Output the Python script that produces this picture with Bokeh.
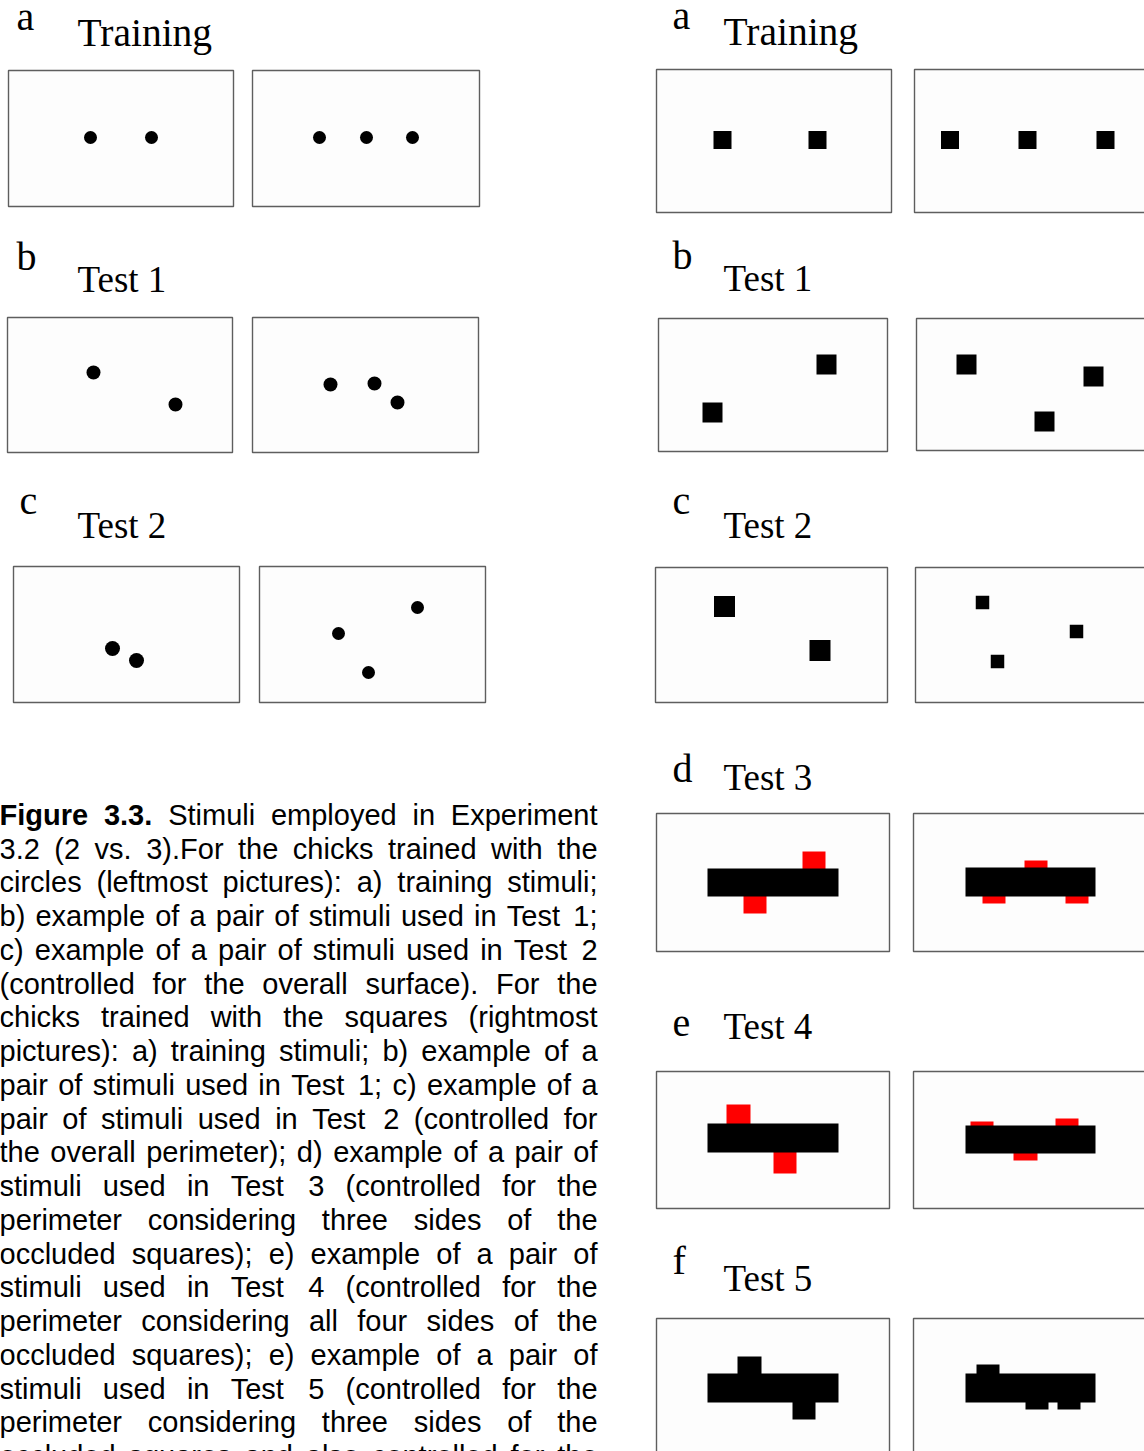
from bokeh.plotting import figure
from bokeh.models import Range1d, ColumnDataSource
from bokeh.core.properties import value
from bokeh.embed import file_html
from bokeh.resources import INLINE

W, H = 1144, 1451

# ---------------- frames (left, right, top, bottom) ----------------
frame_left = [8, 252, 7, 252, 13, 259,
              656, 914, 658, 916, 655, 915,
              656, 913, 656, 913, 656, 913]
frame_right = [233, 479, 232, 478, 239, 485,
               891, 1150, 887, 1150, 887, 1150,
               889, 1150, 889, 1150, 889, 1150]
frame_top = [70, 70, 317, 317, 566, 566,
             69, 69, 318, 318, 567, 567,
             813, 813, 1071, 1071, 1318, 1318]
frame_bottom = [206, 206, 452, 452, 702, 702,
                212, 212, 451, 450, 702, 702,
                951, 951, 1208, 1208, 1470, 1470]

# ---------------- circle stimuli (centre x, centre y, diameter) ----------------
circle_x = [90, 151, 319, 366, 412, 93, 175, 330, 374, 397, 112, 136, 417, 338, 368]
circle_y = [137, 137, 137, 137, 137, 372, 404, 384, 383, 402, 648, 660, 607, 633, 672]
circle_d = [13, 13, 13, 13, 13, 14, 14, 14, 14, 14, 15, 15, 13, 13, 13]

# ---------------- square stimuli (centre x, centre y, side) ----------------
square_x = [722, 817, 949.5, 1027, 1105, 826, 712, 966, 1093, 1044, 724, 819.5, 982, 1076, 997]
square_y = [139.5, 139.5, 139.5, 139.5, 139.5, 364, 412, 364, 376, 421, 606, 650, 602, 631, 661]
square_s = [18, 18, 18, 18, 18, 20, 20, 20, 20, 20, 21, 21, 13.5, 13.5, 13.5]

# ---------------- occluders (black bars) ----------------
bar_left = [707, 965, 707, 965, 707, 965]
bar_right = [838, 1095, 838, 1095, 838, 1095]
bar_top = [868, 867, 1123, 1125, 1373, 1373]
bar_bottom = [896, 896, 1152, 1153, 1402, 1402]

# occluded squares shown in red (Tests 3 and 4)
red_left = [802, 743, 1024, 982, 1065, 726, 773, 970, 1055, 1013]
red_top = [851, 890, 860, 880, 880, 1104, 1150, 1121, 1118, 1136]
red_side = [23, 23, 23, 23, 23, 24, 23, 23, 23, 24]

# occluded squares drawn in black (Test 5)
bump_left = [737, 792, 976, 1025, 1057]
bump_right = [761, 815, 999, 1048, 1080]
bump_top = [1356, 1380, 1364, 1380, 1380]
bump_bottom = [1380, 1419, 1380, 1409, 1409]

# ---------------- panel letters and titles ----------------
letter_text = ["a", "b", "c", "a", "b", "c", "d", "e", "f"]
letter_x = [16, 16, 19, 672, 672, 672, 672, 672, 672]
letter_y = [28, 268, 512, 27, 267, 512, 780, 1034, 1272]

title_text = ["Training", "Test 1", "Test 2",
              "Training", "Test 1", "Test 2", "Test 3", "Test 4", "Test 5"]
title_x = [77, 77, 77, 723, 723, 723, 723, 723, 723]
title_y = [48, 294, 540, 47, 293, 540, 792, 1041, 1293]
title_px = [39.5, 37, 37, 39.5, 37, 37, 37, 37, 37]

# ---------------- caption ----------------
caption_lines = [
    "Figure 3.3. Stimuli employed in Experiment",
    "3.2 (2 vs. 3).For the chicks trained with the",
    "circles (leftmost pictures): a) training stimuli;",
    "b) example of a pair of stimuli used in Test 1;",
    "c) example of a pair of stimuli used in Test 2",
    "(controlled for the overall surface). For the",
    "chicks trained with the squares (rightmost",
    "pictures): a) training stimuli; b) example of a",
    "pair of stimuli used in Test 1; c) example of a",
    "pair of stimuli used in Test 2 (controlled for",
    "the overall perimeter); d) example of a pair of",
    "stimuli used in Test 3 (controlled for the",
    "perimeter considering three sides of the",
    "occluded squares); e) example of a pair of",
    "stimuli used in Test 4 (controlled for the",
    "perimeter considering all four sides of the",
    "occluded squares); e) example of a pair of",
    "stimuli used in Test 5 (controlled for the",
    "perimeter considering three sides of the",
    "occluded squares and also controlled for the",
]
caption_bold_words = 2  # "Figure 3.3."

CAP_FONT = 29
CAP_LEFT, CAP_RIGHT = -1, 597
CAP_BASE, CAP_LEAD = 826, 33.75

# the renderer sets "alphabetic" text a little below the requested y;
# this fraction of the font size lifts it back onto the baseline
BASELINE_LIFT = 0.40
LETTER_LIFT = 0.30

# Arial / Liberation Sans advance widths (1/1000 em)
REG = dict(zip("abcdefghijklmnopqrstuvwxyz",
               [556, 556, 500, 556, 556, 278, 556, 556, 222, 222, 500, 222, 833,
                556, 556, 556, 556, 333, 500, 278, 556, 500, 722, 500, 500, 500]))
REG.update({c: 556 for c in "0123456789"})
REG.update({".": 278, ";": 278, ":": 278, ",": 278, "(": 333, ")": 333,
            "E": 667, "F": 611, "T": 611, "S": 667})
BOLD = {"F": 611, "i": 278, "g": 611, "u": 611, "r": 389, "e": 556, "3": 556, ".": 278}


def word_width(word, bold):
    table = BOLD if bold else REG
    return sum(table.get(ch, 600) for ch in word) * CAP_FONT / 1000.0


reg_words, reg_x, reg_y = [], [], []
bold_words, bold_x, bold_y = [], [], []
for i, line in enumerate(caption_lines):
    words = line.split()
    flags = [i == 0 and k < caption_bold_words for k in range(len(words))]
    widths = [word_width(w, b) for w, b in zip(words, flags)]
    gap = (CAP_RIGHT - CAP_LEFT - sum(widths)) / (len(words) - 1)
    x = CAP_LEFT
    y = CAP_BASE + i * CAP_LEAD - BASELINE_LIFT * CAP_FONT
    for w, b, wd in zip(words, flags, widths):
        if b:
            bold_words.append(w); bold_x.append(x); bold_y.append(y)
        else:
            reg_words.append(w); reg_x.append(x); reg_y.append(y)
        x += wd + gap

# ---------------- figure ----------------
p = figure(width=W, height=H, x_range=Range1d(0, W), y_range=Range1d(H, 0),
           output_backend="svg", toolbar_location=None, min_border=0,
           background_fill_color="white", border_fill_color="white")
p.axis.visible = False
p.grid.visible = False
p.outline_line_color = None

p.quad(left=frame_left, right=frame_right, top=frame_top, bottom=frame_bottom,
       fill_color="#fdfdfd", line_color="#5e5e5e", line_width=1.4)

p.scatter(x=circle_x, y=circle_y, size=circle_d, marker="circle",
          fill_color="black", line_color=None)

sq_src = ColumnDataSource(dict(
    l=[x - s / 2 for x, s in zip(square_x, square_s)],
    r=[x + s / 2 for x, s in zip(square_x, square_s)],
    t=[y - s / 2 for y, s in zip(square_y, square_s)],
    b=[y + s / 2 for y, s in zip(square_y, square_s)],
))
p.quad(left="l", right="r", top="t", bottom="b", source=sq_src,
       fill_color="black", line_color=None)

p.quad(left=red_left, right=[l + s for l, s in zip(red_left, red_side)],
       top=red_top, bottom=[t + s for t, s in zip(red_top, red_side)],
       fill_color="#ff0000", line_color=None)

p.quad(left=bump_left, right=bump_right, top=bump_top, bottom=bump_bottom,
       fill_color="black", line_color=None)

p.quad(left=bar_left, right=bar_right, top=bar_top, bottom=bar_bottom,
       fill_color="black", line_color=None)

LETTER_FONT = 40
p.text(x=letter_x, y=[v - LETTER_LIFT * LETTER_FONT for v in letter_y], text=letter_text,
       text_font=value("Liberation Serif"), text_font_size=f"{LETTER_FONT}px",
       text_color="black", text_baseline="alphabetic")

title_src = ColumnDataSource(dict(
    x=title_x,
    y=[v - BASELINE_LIFT * s for v, s in zip(title_y, title_px)],
    text=title_text,
    size=[f"{s}px" for s in title_px],
))
p.text(x="x", y="y", text="text", text_font_size="size", source=title_src,
       text_font=value("Liberation Serif"), text_color="black",
       text_baseline="alphabetic")

p.text(x=reg_x, y=reg_y, text=reg_words, text_font=value("Liberation Sans"),
       text_font_size=f"{CAP_FONT}px", text_color="black", text_baseline="alphabetic")
p.text(x=bold_x, y=bold_y, text=bold_words, text_font=value("Liberation Sans"),
       text_font_size=f"{CAP_FONT}px", text_font_style="bold", text_color="black",
       text_baseline="alphabetic")

open("out.html", "w").write(file_html(p, INLINE))
